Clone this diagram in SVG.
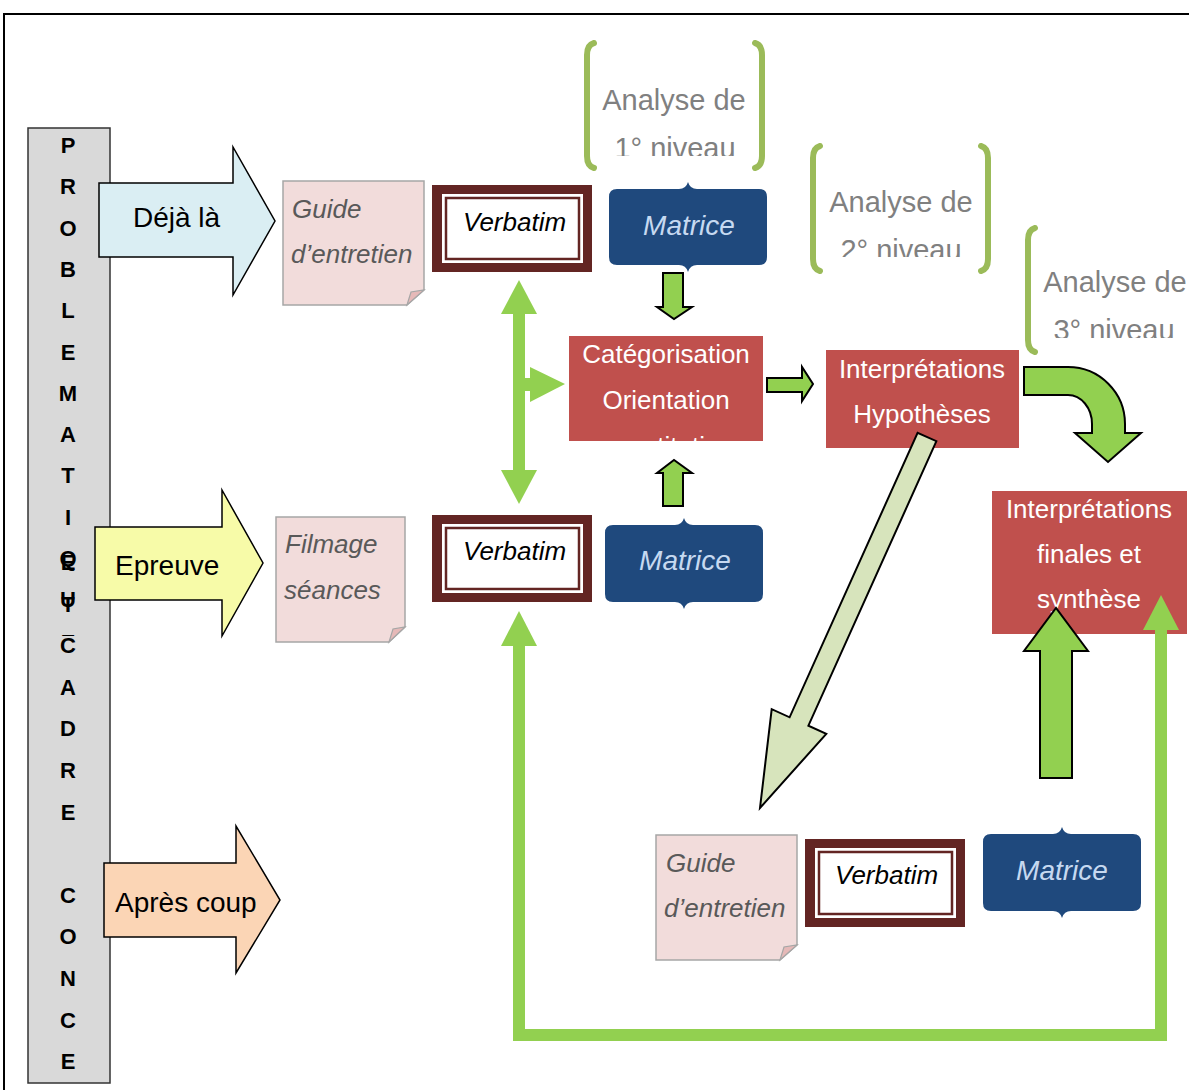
<svg xmlns="http://www.w3.org/2000/svg" width="1189" height="1090" viewBox="0 0 1189 1090">
<style>
text{font-family:"Liberation Sans",Arial,sans-serif}
.lt{font-size:22px;font-weight:bold;fill:#000;text-anchor:middle}
.big{font-size:28px;fill:#000}
.note{fill:#f2dcdb;stroke:#a6a6a6;stroke-width:1.5}
.flap{fill:#e6b9b8;stroke:#a6a6a6;stroke-width:1.2}
.nt{font-size:26px;font-style:italic;fill:#595959}
.vo{fill:#632523}
.vi{fill:#fff;stroke:#632523;stroke-width:2.5}
.vt{font-size:26px;font-style:italic;fill:#000}
.mx{fill:#1f497d}
.mt{font-size:28px;font-style:italic;fill:#c6d9f1;text-anchor:middle}
.red{fill:#c0504d}
.rt{font-size:26px;fill:#fff;text-anchor:middle}
.br{fill:none;stroke:#9bbb59;stroke-width:6;stroke-linecap:round}
.bt{font-size:29px;fill:#808080;text-anchor:middle}
.fat{fill:#92d050;stroke:#000;stroke-width:2;stroke-linejoin:miter}
.gl{fill:#92d050}
</style>
<defs>
<clipPath id="c1"><rect x="0" y="0" width="200" height="636"/></clipPath>
<clipPath id="cb1"><rect x="580" y="40" width="190" height="116"/></clipPath>
<clipPath id="cb2"><rect x="800" y="140" width="200" height="117"/></clipPath>
<clipPath id="cb3"><rect x="1020" y="220" width="169" height="118"/></clipPath>
<clipPath id="ccat"><rect x="569" y="336" width="194" height="105"/></clipPath>
</defs>

<path d="M4,1090 V14 H1189" fill="none" stroke="#000" stroke-width="2"/>

<g id="cadre">
<rect x="28" y="128" width="82" height="955" fill="#d9d9d9" stroke="#333" stroke-width="1.5"/>
<g clip-path="url(#c1)">
<text class="lt" x="68" y="153">P</text>
<text class="lt" x="68" y="194.3">R</text>
<text class="lt" x="68" y="235.6">O</text>
<text class="lt" x="68" y="276.9">B</text>
<text class="lt" x="68" y="318.2">L</text>
<text class="lt" x="68" y="359.5">E</text>
<text class="lt" x="68" y="400.8">M</text>
<text class="lt" x="68" y="442.1">A</text>
<text class="lt" x="68" y="483.4">T</text>
<text class="lt" x="68" y="524.7">I</text>
<text class="lt" x="68" y="566">Q</text>
<text class="lt" x="68" y="607.3">U</text>
<text class="lt" x="68" y="650">E</text>
</g>
<text class="lt" x="68" y="570">E</text>
<text class="lt" x="68" y="611.6">T</text>
<text class="lt" x="68" y="653.2">C</text>
<text class="lt" x="68" y="694.8">A</text>
<text class="lt" x="68" y="736.4">D</text>
<text class="lt" x="68" y="778">R</text>
<text class="lt" x="68" y="819.6">E</text>
<text class="lt" x="68" y="902.8">C</text>
<text class="lt" x="68" y="944.4">O</text>
<text class="lt" x="68" y="986">N</text>
<text class="lt" x="68" y="1027.6">C</text>
<text class="lt" x="68" y="1069.2">E</text>
</g>

<g id="deja">
<path d="M99,183 H233 V147 L275,221 L233,295 V257 H99 Z" fill="#daeef3" stroke="#000" stroke-width="1.5"/>
<text class="big" x="133" y="227">Déjà là</text>
</g>
<g id="epreuve">
<path d="M95,527 H222 V490 L263,563 L222,636 V600 H95 Z" fill="#f7fba8" stroke="#000" stroke-width="1.5"/>
<text class="big" x="115" y="575">Epreuve</text>
</g>
<g id="apres">
<path d="M104,863 H236 V826 L280,900 L236,973 V937 H104 Z" fill="#fbd5b5" stroke="#000" stroke-width="1.5"/>
<text class="big" x="115" y="912">Après coup</text>
</g>

<g id="guide1">
<path class="note" d="M283,181 H424 V290 L407,305 H283 Z"/>
<path class="flap" d="M424,290 L407,305 L411,292 Z"/>
<text class="nt" x="292" y="218">Guide</text>
<text class="nt" x="291" y="263">d’entretien</text>
</g>
<g id="filmage">
<path class="note" d="M276,517 H405 V627 L389,642 H276 Z"/>
<path class="flap" d="M405,627 L389,642 L393,629 Z"/>
<text class="nt" x="285" y="553">Filmage</text>
<text class="nt" x="284" y="599">séances</text>
</g>
<g id="guide2">
<path class="note" d="M656,835 H797 V945 L780,960 H656 Z"/>
<path class="flap" d="M797,945 L780,960 L784,947 Z"/>
<text class="nt" x="666" y="872">Guide</text>
<text class="nt" x="664" y="917">d’entretien</text>
</g>

<g id="verbatim1">
<rect class="vo" x="432" y="185" width="160" height="87"/>
<rect x="442" y="194" width="141" height="69" fill="#fff"/>
<rect class="vi" x="446" y="198" width="133" height="61"/>
<text class="vt" x="463" y="231">Verbatim</text>
</g>
<g id="verbatim2">
<rect class="vo" x="432" y="515" width="160" height="87"/>
<rect x="442" y="524" width="141" height="69" fill="#fff"/>
<rect class="vi" x="446" y="528" width="133" height="61"/>
<text class="vt" x="463" y="560">Verbatim</text>
</g>
<g id="verbatim3">
<rect class="vo" x="805" y="839" width="160" height="88"/>
<rect x="815" y="848" width="141" height="70" fill="#fff"/>
<rect class="vi" x="819" y="852" width="133" height="62"/>
<text class="vt" x="835" y="884">Verbatim</text>
</g>

<g id="matrice1">
<path class="mx" d="M617,189 H679 Q686,189 688,182 Q690,189 697,189 H759 Q767,189 767,197 V257 Q767,265 759,265 H697 Q690,265 688,272 Q686,265 679,265 H617 Q609,265 609,257 V197 Q609,189 617,189 Z"/>
<text class="mt" x="689" y="235">Matrice</text>
</g>
<g id="matrice2">
<path class="mx" d="M613,525 H675 Q682,525 684,518 Q686,525 693,525 H755 Q763,525 763,533 V594 Q763,602 755,602 H693 Q686,602 684,609 Q682,602 675,602 H613 Q605,602 605,594 V533 Q605,525 613,525 Z"/>
<text class="mt" x="685" y="570">Matrice</text>
</g>
<g id="matrice3">
<path class="mx" d="M991,834 H1053 Q1060,834 1062,827 Q1064,834 1071,834 H1133 Q1141,834 1141,842 V903 Q1141,911 1133,911 H1071 Q1064,911 1062,918 Q1060,911 1053,911 H991 Q983,911 983,903 V842 Q983,834 991,834 Z"/>
<text class="mt" x="1062" y="880">Matrice</text>
</g>

<g id="analyse1">
<path class="br" d="M594,43 Q587,45 587,55 V156 Q587,166 594,168"/>
<path class="br" d="M755,43 Q762,45 762,55 V156 Q762,166 755,168"/>
<text class="bt" x="674" y="110">Analyse de</text>
<text class="bt" x="675" y="158" clip-path="url(#cb1)">1° niveau</text>
</g>
<g id="analyse2">
<path class="br" d="M820,146 Q813,148 813,158 V259 Q813,269 820,271"/>
<path class="br" d="M981,146 Q988,148 988,158 V259 Q988,269 981,271"/>
<text class="bt" x="901" y="212">Analyse de</text>
<text class="bt" x="901" y="260" clip-path="url(#cb2)">2° niveau</text>
</g>
<g id="analyse3">
<path class="br" d="M1035,228 Q1028,230 1028,240 V340 Q1028,350 1035,352"/>
<text class="bt" x="1115" y="292">Analyse de</text>
<text class="bt" x="1114" y="340" clip-path="url(#cb3)">3° niveau</text>
</g>

<g id="categorisation">
<rect class="red" x="569" y="336" width="194" height="105"/>
<text class="rt" x="666" y="363">Catégorisation</text>
<text class="rt" x="666" y="409">Orientation</text>
<text class="rt" x="666" y="455" clip-path="url(#ccat)">quantitative</text>
</g>
<g id="interpretations">
<rect class="red" x="826" y="350" width="193" height="98"/>
<text class="rt" x="922" y="378">Interprétations</text>
<text class="rt" x="922" y="423">Hypothèses</text>
</g>
<g id="finales">
<rect class="red" x="992" y="491" width="195" height="143"/>
<text class="rt" x="1089" y="518">Interprétations</text>
<text class="rt" x="1089" y="563">finales et</text>
<text class="rt" x="1089" y="608">synthèse</text>
</g>

<g id="connectors">
<polyline points="519,640 519,1035 1161,1035 1161,625" fill="none" stroke="#92d050" stroke-width="12" stroke-linejoin="miter"/>
<polygon class="gl" points="519,611 537,646 501,646"/>
<polygon class="gl" points="1161,595 1179,630 1143,630"/>
<rect class="gl" x="513" y="310" width="12" height="164"/>
<polygon class="gl" points="519,280 537,314 501,314"/>
<polygon class="gl" points="519,504 537,470 501,470"/>
<rect class="gl" x="523" y="378" width="9" height="13"/>
<polygon class="gl" points="530,367 565,384 530,402"/>
<path class="fat" d="M663,273 H683 V307 H692 L674,319 L657,307 H663 Z"/>
<path class="fat" d="M663,506 H683 V473 H692 L674,460 L657,473 H663 Z"/>
<path class="fat" d="M767,378 H802 V367 L813,384 L802,401 V392 H767 Z"/>
<path class="fat" d="M1024,367 H1068 A57,57 0 0 1 1125,424 V433 H1141 L1108,462 L1075,433 H1092 V424 A24,29 0 0 0 1068,395 H1024 Z"/>
<path class="fat" d="M1040,778 H1072 V651 H1088 L1056,608 L1024,651 H1040 Z"/>
<polygon points="936.4,441.2 808.4,725.7 826.3,733.8 760,808 771.7,709.2 789.6,717.3 917.6,432.8" fill="#d7e4bc" stroke="#000" stroke-width="2"/>
</g>
</svg>
